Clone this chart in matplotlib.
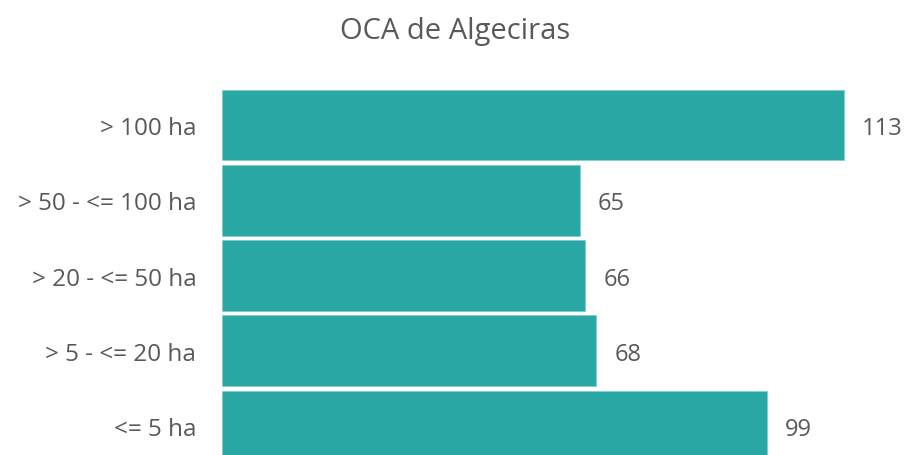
import matplotlib
matplotlib.use("Agg")
import matplotlib.pyplot as plt

# categories from top to bottom, with their counts
categories = ["> 100 ha", "> 50 - <= 100 ha", "> 20 - <= 50 ha", "> 5 - <= 20 ha", "<= 5 ha"]
values = [113, 65, 66, 68, 99]
title = "OCA de Algeciras"

bar_color = "#2AA8A5"
text_color = "#595959"

plt.rcParams["font.family"] = ["Open Sans", "DejaVu Sans"]

fig = plt.figure(figsize=(9.1, 4.56), dpi=100)
# axes placed in pixels: value 0 at x=222, bottom bar is cut by the figure edge
ax = fig.add_axes([222 / 910, -8.6 / 456, 688 / 910, 376.2 / 456])

ypos = list(range(len(categories)))
ax.barh(ypos, values, height=0.94, color=bar_color, edgecolor="#7fd0cd", linewidth=0.6)

for y, v in zip(ypos, values):
    ax.annotate(str(v), (v, y), xytext=(18, -3), textcoords="offset pixels",
                ha="left", va="center", fontsize=17, color=text_color)

ax.set_xlim(0, 125)
ax.set_ylim(4.5, -0.5)
ax.set_yticks(ypos)
ax.set_yticklabels(categories, fontsize=17.5, color=text_color)
ax.tick_params(axis="y", length=0, pad=18.5)
ax.set_xticks([])
for s in ax.spines.values():
    s.set_visible(False)

fig.text(455 / 910, 1 - 31 / 456, title, ha="center", va="center", fontsize=21, color=text_color)

fig.savefig("out.png", dpi=100)
